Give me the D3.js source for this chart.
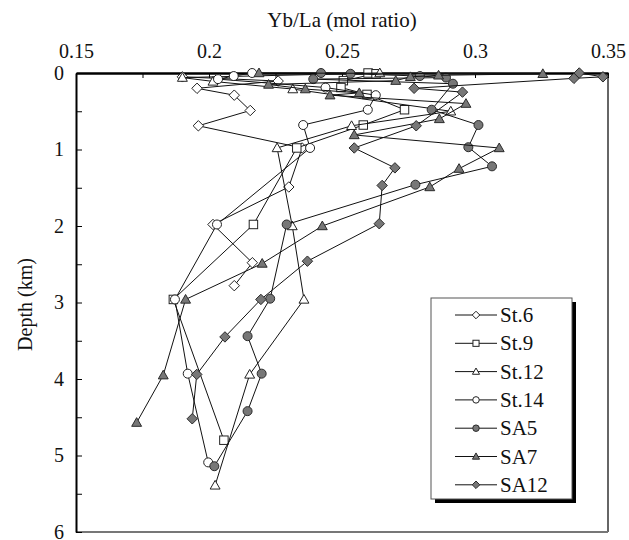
<!DOCTYPE html>
<html>
<head>
<meta charset="utf-8">
<script src="https://cdn.jsdelivr.net/npm/d3@7"></script>
<style>
  body { margin: 0; background: #fff; }
  svg { display: block; }
  svg text { font-family: "Liberation Serif", "Times New Roman", Times, serif !important; fill: #111; }
</style>
</head>
<body>
<svg id="chart" width="629" height="540"></svg>
<script>
// ---- data: [depth (km), Yb/La (mol ratio)] ----
const st6 = [[0.05,0.190],[0.105,0.226],[0.2,0.1955],[0.29,0.2095],[0.49,0.2155],[0.69,0.196],[0.98,0.235],[1.49,0.230],[1.98,0.2015],[2.48,0.2163],[2.78,0.2095]];
const st9 = [[0,0.2598],[0.01,0.2628],[0.1,0.2505],[0.19,0.2496],[0.28,0.2594],[0.48,0.2735],[0.68,0.258],[0.98,0.233],[1.98,0.2167],[2.96,0.1866],[4.8,0.2056]];
const st12 = [[0,0.2642],[0.06,0.190],[0.11,0.2015],[0.21,0.2315],[0.5,0.2909],[0.69,0.2536],[0.98,0.2256],[2.0,0.2313],[2.96,0.2357],[3.94,0.2153],[5.39,0.2023]];
const st14 = [[0,0.2162],[0.04,0.2093],[0.08,0.2034],[0.19,0.2438],[0.29,0.2627],[0.48,0.2597],[0.68,0.2354],[0.98,0.238],[1.98,0.203],[2.96,0.1872],[3.93,0.192],[5.09,0.1997]];
const sa5 = [[0,0.2421],[0.01,0.2532],[0.04,0.2793],[0.06,0.2891],[0.08,0.2392],[0.14,0.2917],[0.48,0.2837],[0.68,0.3013],[0.97,0.2975],[1.22,0.3064],[1.46,0.2776],[1.98,0.2292],[2.95,0.223],[3.44,0.2145],[3.93,0.2198],[4.42,0.2145],[5.14,0.202]];
const sa7 = [[0,0.2188],[0.01,0.3255],[0.03,0.2863],[0.05,0.2757],[0.1,0.2702],[0.15,0.2224],[0.21,0.2362],[0.26,0.2565],[0.29,0.2455],[0.4,0.2966],[0.6,0.2866],[0.81,0.2546],[0.98,0.3091],[1.25,0.294],[1.49,0.283],[2.0,0.2426],[2.49,0.22],[2.96,0.1912],[3.95,0.1828],[4.57,0.1728]];
const sa12 = [[0,0.3392],[0.05,0.3481],[0.07,0.3372],[0.2,0.2771],[0.25,0.2953],[0.69,0.2779],[0.98,0.2546],[1.24,0.2699],[1.47,0.2651],[1.97,0.264],[2.46,0.237],[2.96,0.2195],[3.45,0.206],[3.94,0.1954],[4.52,0.1937]];

const seriesNames = ["St.6","St.9","St.12","St.14","SA5","SA7","SA12"];
const seriesData = [st6, st9, st12, st14, sa5, sa7, sa12];
const seriesShapes = ["diamond","square","triangle","circle","circle","triangle","diamond"];
const seriesFilled = [false,false,false,false,true,true,true];

const xTicks = [0.15,0.175,0.2,0.225,0.25,0.275,0.3,0.325,0.35];
const xTickLabels = ["0.15","","0.2","","0.25","","0.3","","0.35"];
const yTicks = [0,0.5,1,1.5,2,2.5,3,3.5,4,4.5,5,5.5,6];
const yTickLabels = ["0","","1","","2","","3","","4","","5","","6"];

const xTitle = "Yb/La (mol ratio)";
const yTitle = "Depth (km)";

// ---- layout ----
const FONT = '"Liberation Serif", "Times New Roman", Times, serif';
const svg = d3.select("#chart");
const L = 76, R = 608, T = 73, B = 532;
const x = d3.scaleLinear().domain([0.15, 0.35]).range([L, R]);
const y = d3.scaleLinear().domain([0, 6]).range([T, B]);

const fillGray = "#777";
const strokeDark = "#2a2a2a";

// frame lines (right & bottom)
svg.append("line").attr("x1", R).attr("x2", R).attr("y1", T).attr("y2", B)
  .attr("stroke", "#333").attr("stroke-width", 1.5);
svg.append("line").attr("x1", L).attr("x2", R).attr("y1", B).attr("y2", B)
  .attr("stroke", "#777").attr("stroke-width", 2);

// top axis
const xAxis = d3.axisTop(x).tickValues(xTicks)
  .tickFormat((d, i) => xTickLabels[i]).tickSizeInner(-5).tickSizeOuter(0).tickPadding(15);
const gx = svg.append("g").attr("transform", `translate(0,${T})`).call(xAxis)
  .attr("font-family", FONT);
gx.select(".domain").attr("stroke", "#000").attr("stroke-width", 2.5);
gx.selectAll(".tick line").attr("stroke", "#000").attr("stroke-width", 1);
gx.selectAll(".tick text").attr("font-size", 20).style("font-family", FONT).attr("fill", "#111");

// left axis
const yAxis = d3.axisLeft(y).tickValues(yTicks)
  .tickFormat((d, i) => yTickLabels[i]).tickSizeInner(-6).tickSizeOuter(0).tickPadding(12);
const gy = svg.append("g").attr("transform", `translate(${L},0)`).call(yAxis)
  .attr("font-family", FONT);
gy.select(".domain").attr("stroke", "#000").attr("stroke-width", 2);
gy.selectAll(".tick line").attr("stroke", "#000").attr("stroke-width", 1);
gy.selectAll(".tick text").attr("font-size", 20).style("font-family", FONT).attr("fill", "#111");

// titles
svg.append("text").attr("x", (L + R) / 2).attr("y", 27).attr("text-anchor", "middle")
  .attr("font-size", 21).style("font-family", FONT).text(xTitle);
svg.append("text").attr("transform", `translate(32,${(T + B) / 2 + 2}) rotate(-90)`)
  .attr("text-anchor", "middle").attr("font-size", 20).style("font-family", FONT).text(yTitle);

// marker drawing
function marker(g, shape, filled, s) {
  const fill = filled ? fillGray : "#fff";
  const stroke = filled ? strokeDark : "#222";
  let el;
  if (shape === "circle") {
    el = g.append("circle").attr("r", s * 0.5);
  } else if (shape === "square") {
    const h = s * 0.47;
    el = g.append("rect").attr("x", -h).attr("y", -h).attr("width", 2 * h).attr("height", 2 * h);
  } else if (shape === "triangle") {
    const h = s * 0.55;
    el = g.append("path").attr("d", `M0,${-h}L${h * 1.0},${h * 0.75}L${-h * 1.0},${h * 0.75}Z`);
  } else {
    const h = s * 0.58;
    el = g.append("path").attr("d", `M0,${-h}L${h},0L0,${h}L${-h},0Z`);
  }
  el.attr("fill", fill).attr("stroke", stroke).attr("stroke-width", 1);
}

const line = d3.line().x(d => x(d[1])).y(d => y(d[0]));
const plot = svg.append("g");

seriesData.forEach((data, i) => {
  const g = plot.append("g");
  g.append("path").datum(data).attr("d", line)
    .attr("fill", "none").attr("stroke", "#111").attr("stroke-width", 1);
  data.forEach(d => {
    const m = g.append("g").attr("transform", `translate(${x(d[1])},${y(d[0])})`);
    marker(m, seriesShapes[i], seriesFilled[i], 9);
  });
});

// legend
const lg = svg.append("g");
const lx = 431, ly = 298, lw = 141, lh = 201;
lg.append("rect").attr("x", lx + 4).attr("y", ly + 4).attr("width", lw).attr("height", lh).attr("fill", "#000");
lg.append("rect").attr("x", lx).attr("y", ly).attr("width", lw).attr("height", lh)
  .attr("fill", "#fff").attr("stroke", "#555").attr("stroke-width", 1);
seriesNames.forEach((name, i) => {
  const yy = ly + 17 + i * 28.3;
  lg.append("line").attr("x1", lx + 24).attr("x2", lx + 66).attr("y1", yy).attr("y2", yy)
    .attr("stroke", "#111").attr("stroke-width", 1);
  const m = lg.append("g").attr("transform", `translate(${lx + 45},${yy})`);
  marker(m, seriesShapes[i], seriesFilled[i], 6.5);
  lg.append("text").attr("x", lx + 69).attr("y", yy + 7).attr("font-size", 21)
    .style("font-family", FONT).text(name);
});
</script>
</body>
</html>
